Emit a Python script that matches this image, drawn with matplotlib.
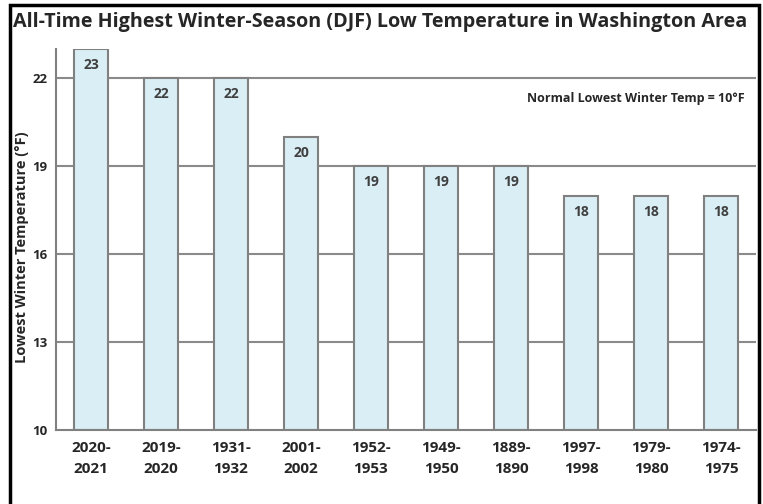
import matplotlib
matplotlib.use("Agg")
import matplotlib.pyplot as plt
from matplotlib.patches import Rectangle

seasons = ["2020-\n2021", "2019-\n2020", "1931-\n1932", "2001-\n2002", "1952-\n1953",
           "1949-\n1950", "1889-\n1890", "1997-\n1998", "1979-\n1980", "1974-\n1975"]
lows = [23, 22, 22, 20, 19, 19, 19, 18, 18, 18]
yticks = [10, 13, 16, 19, 22]

plt.rcParams['font.family'] = ['Open Sans', 'DejaVu Sans']
txt = '#262626'

fig = plt.figure(figsize=(7.63, 5.04), dpi=100)
ax = fig.add_axes([56/763, 1-430/504, 700/763, 381/504])

x = list(range(len(lows)))
for yv in yticks[1:]:
    ax.axhline(yv, color='#8a8a8a', lw=1.5, zorder=1)
ax.bar(x, [v - 10 for v in lows], bottom=10, width=0.49, color='#daeef5',
       edgecolor='#808080', linewidth=1.5, zorder=2)
for xi, v in zip(x, lows):
    ax.text(xi, v - 0.55, str(v), ha='center', va='center', fontsize=10,
            fontweight='bold', color='#404040', zorder=3)

ax.set_xlim(-0.5, 9.5)
ax.set_ylim(10, 23)
ax.set_yticks(yticks)
ax.set_yticklabels([str(t) for t in yticks], fontsize=9.5, fontweight='bold', color=txt)
ax.set_xticks(x)
ax.set_xticklabels(seasons, fontsize=11, fontweight='bold', color=txt, linespacing=1.6)
ax.tick_params(axis='both', length=0)
ax.tick_params(axis='y', pad=6)
ax.tick_params(axis='x', pad=8)
for s in ['top', 'right']:
    ax.spines[s].set_visible(False)
for s in ['left', 'bottom']:
    ax.spines[s].set_color('#808080')
    ax.spines[s].set_linewidth(1.5)
ax.set_ylabel('Lowest Winter Temperature (°F)', fontsize=10.5, fontweight='bold',
              color=txt)
ax.yaxis.set_label_coords((29 - 56) / 700, 0.48)

ax.text(0.984, 0.871, 'Normal Lowest Winter Temp = 10°F', transform=ax.transAxes,
        ha='right', va='center', fontsize=9, fontweight='bold', color=txt)

fig.text(380/763, 1-22/504, 'All-Time Highest Winter-Season (DJF) Low Temperature in Washington Area',
         ha='center', va='center', fontsize=14.2, fontweight='bold', color=txt)

fig.patches.append(Rectangle((10/763, -0.05), 749/763, 1.05 - 5/504,
                             transform=fig.transFigure, fill=False,
                             edgecolor='black', linewidth=2.5))

fig.savefig('out.png', dpi=100)
